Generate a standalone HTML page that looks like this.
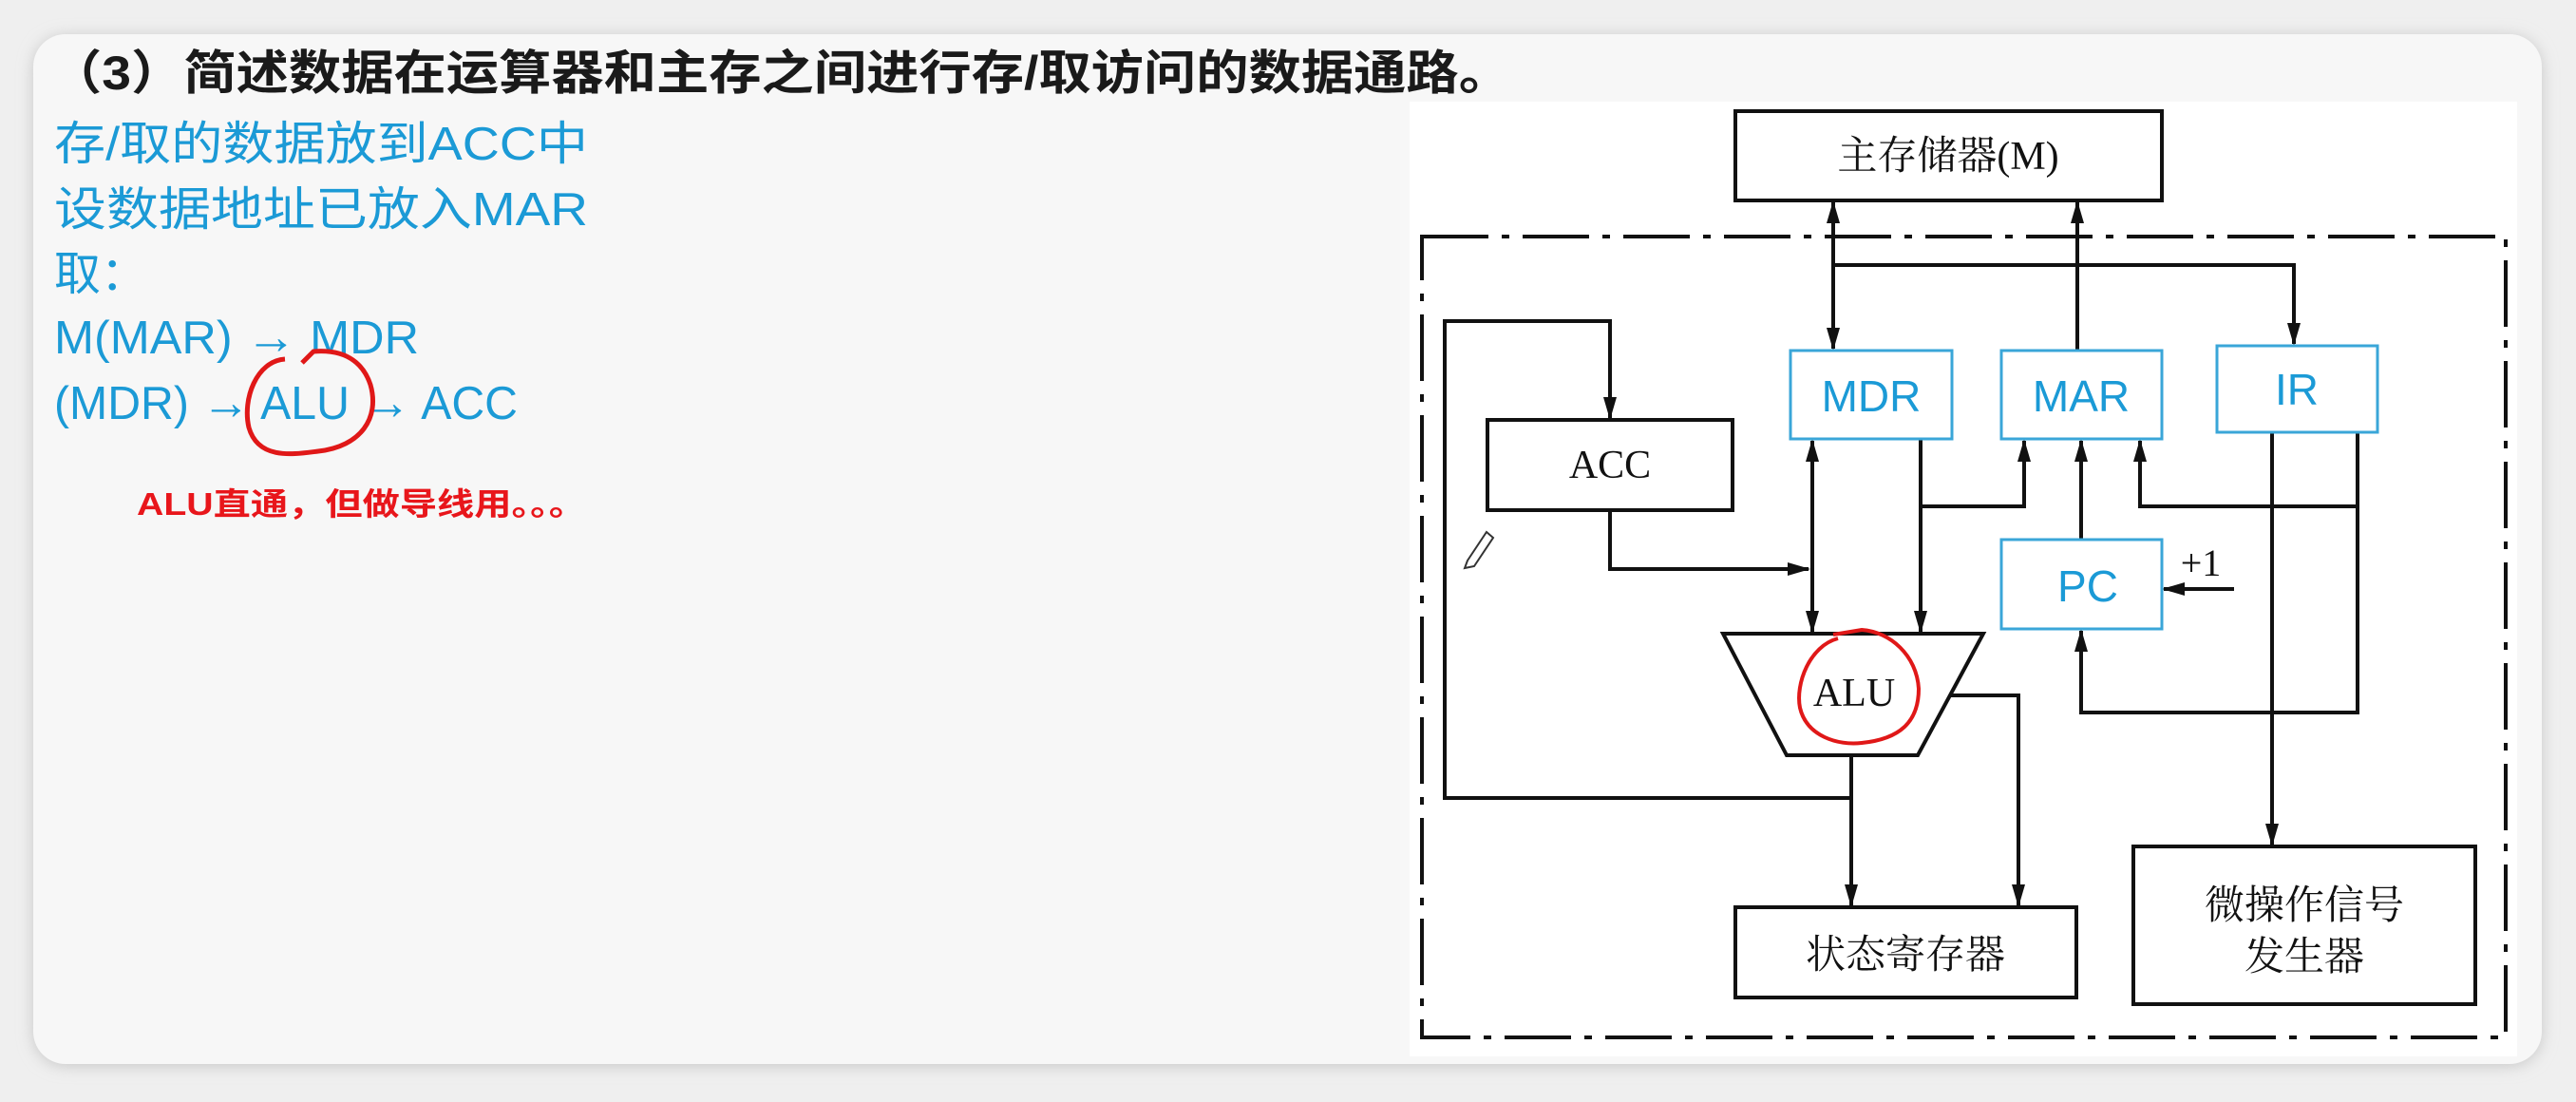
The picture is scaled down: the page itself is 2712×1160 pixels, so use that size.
<!DOCTYPE html>
<html><head><meta charset="utf-8"><style>
html,body{margin:0;padding:0;width:2712px;height:1160px;background:#efefef;overflow:hidden}
svg{display:block}
</style></head><body>
<svg width="2712" height="1160" viewBox="0 0 2712 1160" xmlns="http://www.w3.org/2000/svg">
<defs>
<filter id="sh" x="-5%" y="-5%" width="110%" height="110%"><feGaussianBlur stdDeviation="8"/></filter>
<marker id="a" markerWidth="24" markerHeight="14" refX="22" refY="7" orient="auto" markerUnits="userSpaceOnUse"><path d="M0,0 L24,7 L0,14 Z" fill="#111"/></marker>
<marker id="s" markerWidth="24" markerHeight="14" refX="2" refY="7" orient="auto" markerUnits="userSpaceOnUse"><path d="M24,0 L0,7 L24,14 Z" fill="#111"/></marker>
</defs>
<rect x="35" y="38" width="2641" height="1084" rx="34" fill="#c8c8c8" filter="url(#sh)"/>
<rect x="35" y="36" width="2641" height="1084" rx="34" fill="#f7f7f7"/>
<rect x="1484" y="107" width="1166" height="1005" fill="#ffffff"/>

<g font-family="'Liberation Sans','Noto Sans CJK SC',sans-serif">
<text x="52" y="94" font-size="50" font-weight="bold" fill="#1a1a1a" textLength="1539" lengthAdjust="spacingAndGlyphs">（3）简述数据在运算器和主存之间进行存/取访问的数据通路。</text>
<g fill="#1b9ad6" font-size="49">
<text x="57" y="168" textLength="562" lengthAdjust="spacingAndGlyphs">存/取的数据放到ACC中</text>
<text x="57" y="237" textLength="562" lengthAdjust="spacingAndGlyphs">设数据地址已放入MAR</text>
<text x="57" y="305">取：</text>
<text x="57" y="372" textLength="384" lengthAdjust="spacingAndGlyphs">M(MAR) <tspan font-size="52">→</tspan> MDR</text>
<text x="57" y="441" textLength="488" lengthAdjust="spacingAndGlyphs">(MDR) <tspan font-size="52">→</tspan> ALU <tspan font-size="52">→</tspan> ACC</text>
</g>
<text x="144" y="542" font-size="33" font-weight="bold" fill="#e8161b" textLength="473" lengthAdjust="spacingAndGlyphs">ALU直通，但做导线用。。。</text>
</g>
<path d="M300,378 C270,380 255,420 262,450 C272,485 310,478 335,475 C380,470 400,440 390,405 C380,375 355,368 330,370 L318,382" fill="none" stroke="#e01818" stroke-width="5"/>

<g stroke="#111" stroke-width="4" fill="none">
<rect x="1497" y="249" width="1141" height="843" stroke-dasharray="70,14,8,14"/>
<rect x="1827" y="117" width="449" height="94" fill="#fff"/>
<rect x="1566" y="442" width="258" height="95"/>
<rect x="1827" y="955" width="359" height="95"/>
<rect x="2246" y="891" width="360" height="166"/>
<path d="M1814,667 L2088,667 L2019,795 L1881,795 Z"/>
<path d="M1930,213 L1930,367" marker-start="url(#s)" marker-end="url(#a)"/>
<path d="M2187,369 L2187,213" marker-end="url(#a)"/>
<path d="M1930,279 L2415,279 L2415,362" marker-end="url(#a)"/>
<path d="M1949,840 L1521,840 L1521,338 L1695,338 L1695,440" marker-end="url(#a)"/>
<path d="M1695,537 L1695,599 L1904,599" marker-end="url(#a)"/>
<path d="M1908,464 L1908,665" marker-start="url(#s)" marker-end="url(#a)"/>
<path d="M2022,462 L2022,665" marker-end="url(#a)"/>
<path d="M2022,533 L2131,533 L2131,464" marker-end="url(#a)"/>
<path d="M2191,568 L2191,464" marker-end="url(#a)"/>
<path d="M2482,455 L2482,750 L2191,750 L2191,664" marker-end="url(#a)"/>
<path d="M2482,533 L2253,533 L2253,464" marker-end="url(#a)"/>
<path d="M2392,455 L2392,889" marker-end="url(#a)"/>
<path d="M2352,620 L2278,620" marker-end="url(#a)"/>
<path d="M1949,795 L1949,953" marker-end="url(#a)"/>
<path d="M2054,732 L2125,732 L2125,953" marker-end="url(#a)"/>
</g>
<g stroke="#3aa6d8" stroke-width="3" fill="#fff">
<rect x="1885" y="369" width="170" height="93"/>
<rect x="2107" y="369" width="169" height="93"/>
<rect x="2334" y="364" width="169" height="91"/>
<rect x="2107" y="568" width="169" height="94"/>
</g>
<g font-family="'Liberation Sans',sans-serif" font-size="46" fill="#1b9ad6" text-anchor="middle">
<text x="1970" y="433">MDR</text>
<text x="2191" y="433">MAR</text>
<text x="2418" y="426">IR</text>
<text x="2198" y="633">PC</text>
</g>
<g font-family="'Liberation Serif','Noto Serif CJK SC',serif" font-size="42" fill="#111" text-anchor="middle">
<text x="2051" y="178">主存储器(M)</text>
<text x="1695" y="503">ACC</text>
<text x="1952" y="743">ALU</text>
<text x="2006" y="1019">状态寄存器</text>
<text x="2426" y="967">微操作信号</text>
<text x="2426" y="1021">发生器</text>
<text x="2317" y="606" font-size="40">+1</text>
</g>
<path d="M1935,672 C1905,680 1890,720 1895,745 C1902,775 1935,785 1960,782 C2000,778 2020,760 2020,725 C2018,690 1990,665 1960,663 L1930,668" fill="none" stroke="#e01818" stroke-width="4"/>
<path d="M1545,590 L1565,560 L1572,566 L1552,596 L1542,598 Z" fill="none" stroke="#333" stroke-width="2"/>
</svg>
</body></html>
